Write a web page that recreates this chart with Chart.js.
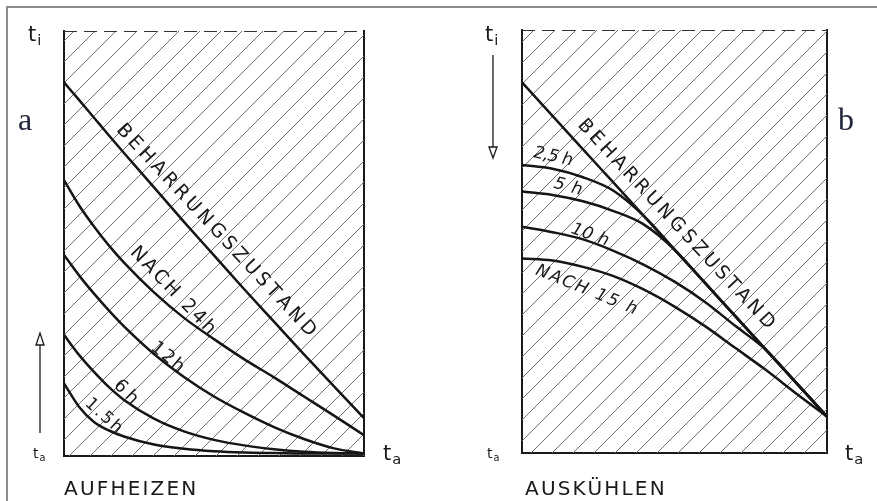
<!DOCTYPE html>
<html>
<head>
<meta charset="utf-8">
<script src="https://cdn.jsdelivr.net/npm/chart.js@4.4.1/dist/chart.umd.min.js"></script>
<style>
  body { margin: 0; background: #fff; }
  #page { position: relative; width: 877px; height: 501px; overflow: hidden; font-family: "DejaVu Sans", sans-serif; color: #1a1a1a; }
  .frame { position: absolute; left: 6px; top: 6px; width: 950px; height: 600px; border-top: 2px solid #8c8c8c; border-left: 2px solid #8c8c8c; }
  canvas { position: absolute; top: 0; }
  #heatChart { left: 0; }
  #coolChart { left: 438px; }
  .t { position: absolute; line-height: 1; white-space: nowrap; }
  .t sub { font-size: 0.7em; vertical-align: -0.3em; margin-left: 1px; }
  .big { font-size: 21px; }
  .small { font-size: 14px; }
  .panel { position: absolute; font-family: "Liberation Serif", serif; font-size: 32px; line-height: 1; color: #22263a; }
  .caption { position: absolute; font-size: 20px; line-height: 1; letter-spacing: 2.2px; }
  svg { position: absolute; left: 0; top: 0; }
</style>
</head>
<body>
<div id="page">
  <div class="frame"></div>
  <canvas id="heatChart" width="438" height="501"></canvas>
  <canvas id="coolChart" width="439" height="501"></canvas>

  <div class="t big" style="left:28px; top:24px;">t<sub>i</sub></div>
  <div class="t small" style="left:33px; top:446px;">t<sub>a</sub></div>
  <div class="t big" style="left:383px; top:443px;">t<sub>a</sub></div>
  <div class="panel" style="left:18px; top:103px;">a</div>
  <div class="caption" style="left:64px; top:478px;">AUFHEIZEN</div>

  <div class="t big" style="left:485px; top:24px;">t<sub>i</sub></div>
  <div class="t small" style="left:487px; top:446px;">t<sub>a</sub></div>
  <div class="t big" style="left:845px; top:443px;">t<sub>a</sub></div>
  <div class="panel" style="left:838px; top:103px;">b</div>
  <div class="caption" style="left:525px; top:478px;">AUSKÜHLEN</div>

  <svg width="877" height="501">
    <g stroke="#1a1a1a" stroke-width="1.3" fill="#fff">
      <line x1="40" y1="433" x2="40" y2="345"/>
      <polygon points="36,345 44,345 40,333"/>
      <line x1="493" y1="55" x2="493" y2="147"/>
      <polygon points="489,147 497,147 493,158"/>
    </g>
  </svg>
</div>

<script>
// ===============================
// Data (x: 0 = start, 1 = end; y: 0 = t_a, 1 = t_i)
// ===============================

// a - Aufheizen
const xHeat = [0, 0.05, 0.1, 0.15, 0.2, 0.3, 0.4, 0.5, 0.6, 0.7, 0.8, 0.9, 1.0];
const heatSteady = [0.879, 0.838, 0.796, 0.754, 0.713, 0.632, 0.551, 0.472, 0.393, 0.316, 0.239, 0.164, 0.089];
const heat24h    = [0.649, 0.590, 0.540, 0.495, 0.455, 0.385, 0.325, 0.275, 0.228, 0.185, 0.140, 0.095, 0.049];
const heat12h    = [0.473, 0.425, 0.382, 0.342, 0.305, 0.240, 0.186, 0.140, 0.102, 0.068, 0.040, 0.018, 0.006];
const heat6h     = [0.285, 0.238, 0.198, 0.162, 0.132, 0.088, 0.058, 0.038, 0.025, 0.016, 0.010, 0.007, 0.006];
const heat1_5h   = [0.171, 0.116, 0.080, 0.060, 0.046, 0.027, 0.017, 0.011, 0.008, 0.007, 0.006, 0.006, 0.006];

// b - Auskuehlen
const xCool = [0, 0.1, 0.2, 0.3, 0.4, 0.5, 0.6, 0.7, 0.8, 0.9, 1.0];
const coolSteady = [0.876, 0.797, 0.718, 0.639, 0.560, 0.481, 0.402, 0.323, 0.244, 0.165, 0.086];
const cool2_5h   = [0.681, 0.672, 0.652, 0.620, 0.560, 0.481, 0.402, 0.323, 0.244, 0.165, 0.086];
const cool5h     = [0.618, 0.610, 0.595, 0.572, 0.540, 0.481, 0.402, 0.323, 0.244, 0.165, 0.086];
const cool10h    = [0.535, 0.522, 0.505, 0.478, 0.445, 0.405, 0.357, 0.300, 0.244, 0.165, 0.086];
const cool15h    = [0.460, 0.455, 0.440, 0.418, 0.386, 0.346, 0.300, 0.248, 0.196, 0.140, 0.086];

const tiLine = [1, 1];
const tiX = [0, 1];

// curve labels (anchor in data units, angle in degrees)
const heatLabels = [
    { text: "BEHARRUNGSZUSTAND", x: 0.505, y: 0.532, angle: 47, span: 282, size: 19 },
    { text: "NACH 24h", x: 0.362, y: 0.389, angle: 46, span: 114, size: 19 },
    { text: "12h", x: 0.345, y: 0.232, angle: 40, span: 38, size: 18 },
    { text: "6h", x: 0.206, y: 0.150, angle: 45, span: 27, size: 18 },
    { text: "1.5h", x: 0.132, y: 0.094, angle: 42, span: 44, size: 17 }
];

const coolLabels = [
    { text: "BEHARRUNGSZUSTAND", x: 0.503, y: 0.542, angle: 47, span: 278, size: 19 },
    { text: "2,5 h", x: 0.102, y: 0.700, angle: 12, span: 40, size: 17, italic: true },
    { text: "5 h", x: 0.151, y: 0.629, angle: 15, span: 29, size: 17, italic: true },
    { text: "10 h", x: 0.223, y: 0.515, angle: 20, span: 39, size: 17, italic: true },
    { text: "NACH 15 h", x: 0.211, y: 0.385, angle: 22, span: 108, size: 17, italic: true }
];

// ===============================
// Helpers
// ===============================

function toPoints(xs, ys) {
    return xs.map((x, i) => ({ x: x, y: ys[i] }));
}

function hatchPattern(step) {
    const c = document.createElement("canvas");
    c.width = step;
    c.height = step;
    const g = c.getContext("2d");
    g.strokeStyle = "#6e6e6e";
    g.lineWidth = 1;
    g.beginPath();
    g.moveTo(0, step); g.lineTo(step, 0);
    g.moveTo(-2, 2); g.lineTo(2, -2);
    g.moveTo(step - 2, step + 2); g.lineTo(step + 2, step - 2);
    g.stroke();
    return g.createPattern(c, "repeat");
}

// draws the rotated lettering along the curves
const curveLabels = {
    id: "curveLabels",
    afterDatasetsDraw(chart, args, opts) {
        const ctx = chart.ctx;
        const xs = chart.scales.x;
        const ys = chart.scales.y;

        (opts.items || []).forEach(l => {
            const px = xs.getPixelForValue(l.x);
            const py = ys.getPixelForValue(l.y);
            ctx.save();
            ctx.translate(px, py);
            ctx.rotate(l.angle * Math.PI / 180);
            ctx.font = (l.italic ? "oblique " : "") + l.size + "px 'DejaVu Sans'";
            ctx.fillStyle = "#1a1a1a";
            ctx.textBaseline = "middle";
            ctx.textAlign = "left";

            const chars = [...l.text];
            const natural = ctx.measureText(l.text).width;
            const extra = (l.span - natural) / (chars.length - 1);
            let pos = -l.span / 2;
            chars.forEach(ch => {
                ctx.fillText(ch, pos, 0);
                pos += ctx.measureText(ch).width + extra;
            });
            ctx.restore();
        });
    }
};

function curve(xs, ys) {
    return {
        data: toPoints(xs, ys),
        borderColor: "#151515",
        borderWidth: 2.5,
        pointRadius: 0,
        cubicInterpolationMode: "monotone",
        fill: false,
        order: 1
    };
}

function makeChart(id, xs, series, labels, padding) {
    const axisBorder = { display: true, color: "#1a1a1a", width: 2 };
    const hidden = { display: false, drawTicks: false };

    const datasets = series.map(s => curve(xs, s));
    datasets.push({
        data: toPoints(tiX, tiLine),
        borderColor: "#333",
        borderWidth: 1.8,
        borderDash: [13, 7],
        pointRadius: 0,
        fill: "origin",
        backgroundColor: hatchPattern(21),
        order: 10
    });

    return new Chart(document.getElementById(id), {
        type: "line",
        data: { datasets: datasets },
        options: {
            responsive: false,
            animation: false,
            devicePixelRatio: 1,
            layout: { padding: padding },
            plugins: {
                legend: { display: false },
                tooltip: { enabled: false },
                curveLabels: { items: labels }
            },
            scales: {
                x: {
                    type: "linear", min: 0, max: 1,
                    grid: hidden, border: axisBorder,
                    ticks: { display: false }
                },
                y: {
                    type: "linear", min: 0, max: 1,
                    grid: hidden, border: axisBorder,
                    ticks: { display: false }
                },
                yr: {
                    type: "linear", position: "right", min: 0, max: 1,
                    grid: hidden, border: axisBorder,
                    ticks: { display: false }
                }
            }
        },
        plugins: [curveLabels]
    });
}

// ===============================
// Charts
// ===============================

makeChart("heatChart", xHeat,
    [heatSteady, heat24h, heat12h, heat6h, heat1_5h],
    heatLabels,
    { left: 64, right: 74, top: 31, bottom: 45 });

makeChart("coolChart", xCool,
    [coolSteady, cool2_5h, cool5h, cool10h, cool15h],
    coolLabels,
    { left: 84, right: 50, top: 30, bottom: 48 });
</script>
</body>
</html>
